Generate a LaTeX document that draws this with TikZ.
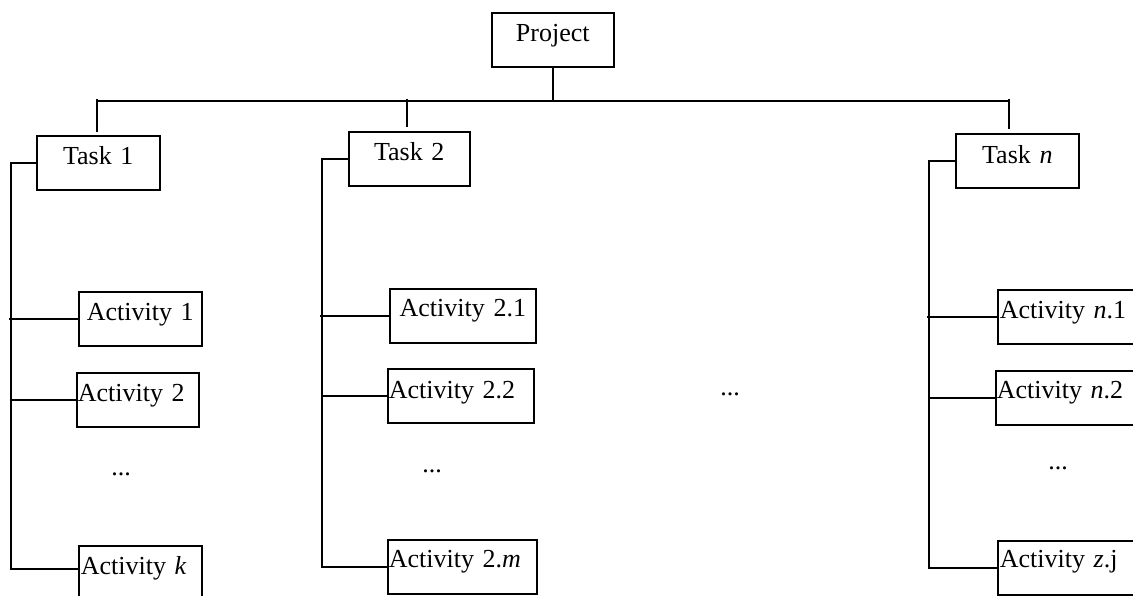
\documentclass[tikz,border=0pt]{standalone}
\usepackage{fontspec}
\setmainfont{Liberation Serif}
\usetikzlibrary{calc}
\tikzset{
  bx/.style={draw, line width=1.6pt, inner sep=0pt, anchor=north west,
    text height=29pt, text depth=25pt, align=center,
    font=\fontsize{26}{30}\selectfont},
  bxl/.style={bx, align=left},
  ln/.style={line width=1.6pt},
  dts/.style={inner sep=0pt, anchor=base, font=\fontsize{26}{30}\selectfont}
}
\begin{document}
\begin{tikzpicture}[x=1pt,y=-1pt]
\useasboundingbox (0,0) rectangle (1133,596);
\clip (0,0) rectangle (1133,596);
% top level
\node[bx, text width=122pt] (proj) at (491,12) {Project};
\node[bx, text width=123pt] (t1) at (36,135) {Task 1};
\node[bx, text width=121pt] (t2) at (348,131) {Task 2};
\node[bx, text width=123pt, text height=30pt, text depth=24pt] (tn) at (955,133) {Task \textit{n}};
% activities of task 1
\node[bx, text width=123pt] (a11) at (78,291) {Activity 1};
\node[bxl, text width=122pt, text depth=25pt] (a12) at (76,372) {\hspace*{1pt}Activity 2};
\node[bxl, text width=123pt, text depth=40pt] (a1k) at (78,545) {\hspace*{2pt}Activity \textit{k}};
% activities of task 2
\node[bx, text width=146pt, text height=28pt, text depth=26pt] (a21) at (389,288) {Activity 2.1};
\node[bxl, text width=146pt, text height=30pt, text depth=24pt] (a22) at (387,368) {\hspace*{1pt}Activity 2.2};
\node[bxl, text width=149pt, text height=28pt, text depth=26pt] (a2m) at (387,539) {\hspace*{1pt}Activity 2.\textit{m}};
% activities of task n
\node[bxl, text width=170pt] (an1) at (997,289) {\hspace*{2pt}Activity \textit{n}.1};
\node[bxl, text width=170pt, text height=28pt, text depth=26pt] (an2) at (995,370) {\hspace*{1pt}Activity \textit{n}.2};
\node[bxl, text width=170pt, text height=27pt, text depth=27pt] (azj) at (997,540) {\hspace*{2pt}Activity \textit{z}.j};
% ellipses
\node[dts] (d1) at (121,475) {...};
\node[dts] (d2) at (432,472) {...};
\node[dts] (d3) at (730,395) {...};
\node[dts] (d4) at (1058,469) {...};
% bar and ticks
\coordinate (bl) at (96,101);
\coordinate (br) at (1009,101);
\draw[ln] (bl) -- (br);
\draw[ln] (proj.south) -- (proj.south |- bl);
\coordinate (k1a) at (97,99);  \coordinate (k1b) at (97,132);
\coordinate (k2a) at (407,99); \coordinate (k2b) at (407,127);
\coordinate (k3a) at (1009,99); \coordinate (k3b) at (1009,129);
\draw[ln] (k1a) -- (k1b);
\draw[ln] (k2a) -- (k2b);
\draw[ln] (k3a) -- (k3b);
% vertical spines
\coordinate (v1) at (11,0);
\coordinate (v2) at (322,0);
\coordinate (v3) at (929,0);
\coordinate (a1kc) at ($(a1k.north west)+(0,24)$);
% task 1
\draw[ln] (t1.west) -| (v1 |- a1kc) -- (a1kc);
\draw[ln] ($(v1 |- a11.west)+(-2,0)$) -- (a11.west);
\draw[ln] (v1 |- a12.west) -- (a12.west);
% task 2
\draw[ln] (t2.west) -| (v2 |- a2m.west) -- (a2m.west);
\draw[ln] ($(v2 |- a21.west)+(-2,0)$) -- (a21.west);
\draw[ln] (v2 |- a22.west) -- (a22.west);
% task n
\draw[ln] (tn.west) -| (v3 |- azj.west) -- (azj.west);
\draw[ln] ($(v3 |- an1.west)+(-2,0)$) -- (an1.west);
\draw[ln] (v3 |- an2.west) -- (an2.west);
\end{tikzpicture}
\end{document}
